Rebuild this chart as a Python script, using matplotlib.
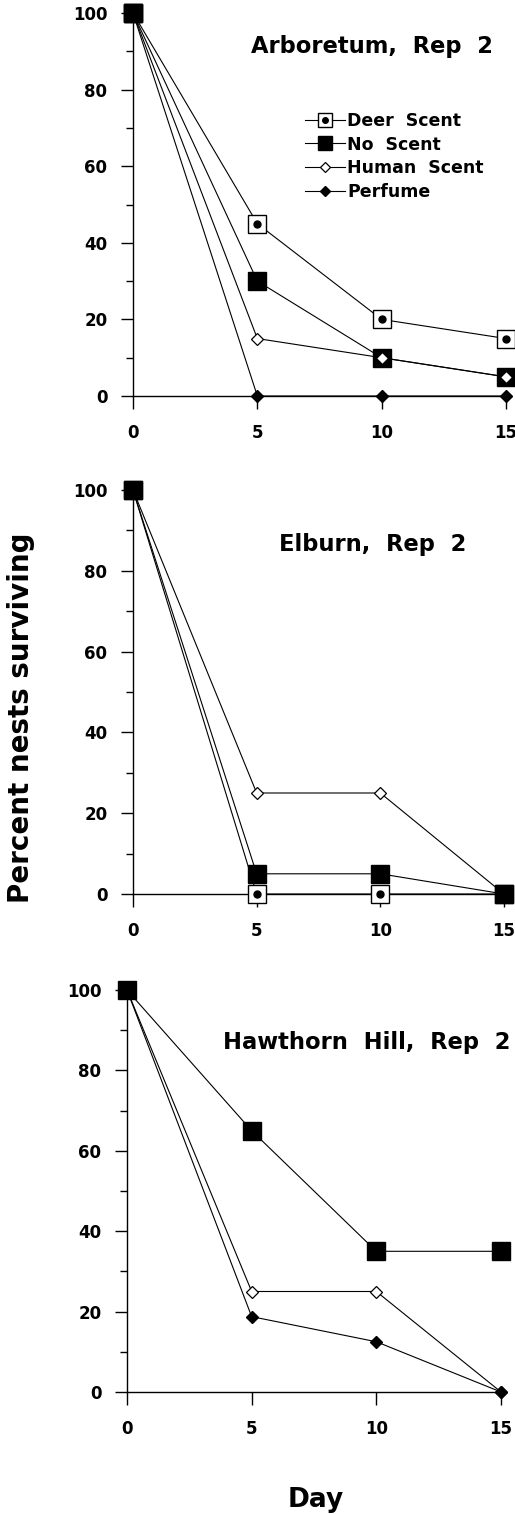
import numpy as np
import matplotlib
matplotlib.use("Agg")
import matplotlib.pyplot as plt
from matplotlib.legend_handler import HandlerTuple

plt.rcParams['font.family'] = ['DejaVu Sans']

days = [0, 5, 10, 15]

# Arboretum, Rep 2
arb_deer = [100, 45, 20, 15]
arb_none = [100, 30, 10, 5]
arb_human = [100, 15, 10, 5]
arb_perfume = [100, 0, 0, 0]

# Elburn, Rep 2
elb_deer = [100, 0, 0, 0]
elb_none = [100, 5, 5, 0]
elb_human = [100, 25, 25, 0]

# Hawthorn Hill, Rep 2
haw_none = [100, 65, 35, 35]
haw_human = [100, 25, 25, 0]
haw_perfume = [100, 18.75, 12.5, 0]

titles = ["Arboretum,  Rep  2", "Elburn,  Rep  2", "Hawthorn  Hill,  Rep  2"]
legend_labels = ["Deer  Scent", "No  Scent", "Human  Scent", "Perfume"]

W, H = 515, 1514
fig = plt.figure(figsize=(W / 100, H / 100), dpi=100)


def px_axes(left, right, top, bottom):
    return fig.add_axes([left / W, 1 - bottom / H, (right - left) / W, (bottom - top) / H])


ax1 = px_axes(133, 506, 13, 396)
ax2 = px_axes(133, 504, 490, 894)
ax3 = px_axes(127, 501, 990, 1392)

lw = 0.8
sq = 13


def deer(ax, y):
    l, = ax.plot(days, y, color='k', lw=lw, marker='s', ms=sq, mfc='white',
                 mec='k', mew=1.0, clip_on=False, zorder=3)
    d, = ax.plot(days, y, ls='none', marker='o', ms=5, mfc='k', mec='k',
                 clip_on=False, zorder=3.1)
    return (l, d)


def none(ax, y, z=4):
    l, = ax.plot(days, y, color='k', lw=lw, marker='s', ms=sq, mfc='k',
                 mec='k', clip_on=False, zorder=z)
    return l


def human(ax, y):
    l, = ax.plot(days, y, color='k', lw=lw, marker='D', ms=6.5, mfc='white',
                 mec='k', mew=0.9, clip_on=False, zorder=5)
    return l


def perfume(ax, y):
    l, = ax.plot(days, y, color='k', lw=lw, marker='D', ms=6.5, mfc='k',
                 mec='k', clip_on=False, zorder=5.5)
    return l


h_deer = deer(ax1, arb_deer)
h_none = none(ax1, arb_none, z=4)
h_human = human(ax1, arb_human)
h_perf = perfume(ax1, arb_perfume)
# day-0 square sits on top of the others
ax1.plot(days[:1], arb_none[:1], ls='none', marker='s', ms=sq, mfc='k', mec='k',
         clip_on=False, zorder=7)

deer(ax2, elb_deer)
none(ax2, elb_none, z=6)
human(ax2, elb_human)

none(ax3, haw_none, z=6)
human(ax3, haw_human)
perfume(ax3, haw_perfume)

for ax in (ax1, ax2, ax3):
    ax.set_xlim(0, 15)
    ax.set_ylim(0, 100)
    ax.spines['top'].set_visible(False)
    ax.spines['right'].set_visible(False)
    ax.spines['left'].set_linewidth(1.0)
    ax.spines['bottom'].set_linewidth(1.0)
    ax.set_xticks([0, 5, 10, 15])
    ax.set_yticks([0, 20, 40, 60, 80, 100])
    ax.set_yticks([10, 30, 50, 70, 90], minor=True)
    ax.tick_params(axis='y', which='major', direction='out', length=8.5, width=1.0, pad=10)
    ax.tick_params(axis='y', which='minor', direction='out', length=5, width=1.0)
    ax.tick_params(axis='x', which='major', direction='out', length=9, width=1.0, pad=11)
    for lab in ax.get_xticklabels() + ax.get_yticklabels():
        lab.set_fontweight('bold')
        lab.set_fontsize(12)

tkw = dict(ha='center', va='baseline', fontsize=16.3, fontweight='bold')
ax1.text(0.642, 0.896, titles[0], transform=ax1.transAxes, **tkw)
ax2.text(0.6455, 0.849, titles[1], transform=ax2.transAxes, **tkw)
ax3.text(0.64, 0.853, titles[2], transform=ax3.transAxes, **tkw)

leg = ax1.legend([h_deer, h_none, h_human, h_perf], legend_labels,
                 handler_map={tuple: HandlerTuple(ndivide=1, pad=0)},
                 loc='upper left', bbox_to_anchor=(0.461, 0.742), frameon=False,
                 borderpad=0, borderaxespad=0, handlelength=2.3, handletextpad=0.15,
                 labelspacing=0.33, markerscale=0.8,
                 prop={'weight': 'bold', 'size': 12.5})

fig.text(21 / W, 1 - 718 / H, "Percent nests surviving", rotation=90, ha='center', va='center',
         fontsize=20, fontweight='bold')
fig.text(316 / W, 1 - 1500 / H, "Day", ha='center', va='center',
         fontsize=19, fontweight='bold')

fig.savefig("out.png", dpi=100)
